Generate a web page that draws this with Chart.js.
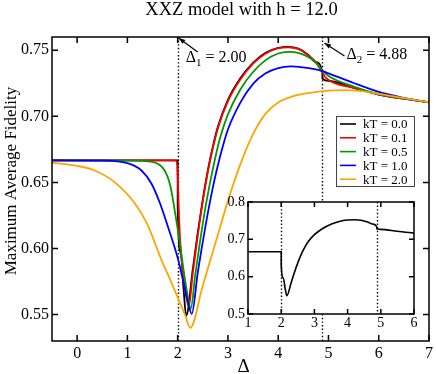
<!DOCTYPE html>
<html>
<head>
<meta charset="utf-8">
<script src="https://cdn.jsdelivr.net/npm/chart.js@4.4.1/dist/chart.umd.min.js"></script>
<style>
  html, body { margin: 0; padding: 0; background: #fff; }
  #wrap { position: relative; width: 436px; height: 374px; }
  #main  { position: absolute; left: 0; top: 0; }
  #inset { position: absolute; left: 220px; top: 190px; }
</style>
</head>
<body>
<div id="wrap">
  <canvas id="main" width="436" height="374"></canvas>
  <canvas id="inset" width="216" height="150"></canvas>
</div>
<script>
// ── Data ─────────────────────────────────────────────────
const xTicks      = [0, 1, 2, 3, 4, 5, 6, 7];
const yTicks      = [0.55, 0.60, 0.65, 0.70, 0.75];
const insetXTicks = [1, 2, 3, 4, 5, 6];
const insetYTicks = [0.5, 0.6, 0.7, 0.8];
const transitions = [2.00, 4.88];

const kTLabels = ['kT = 0.0', 'kT = 0.1', 'kT = 0.5', 'kT = 1.0', 'kT = 2.0'];
const kTColors = ['#000000', '#ff0000', '#009a00', '#0000ff', '#ffa500'];

// kT = 0.0 (also shown in the inset)
const deltaK0 = [-0.5, 2.0, 2.0001, 2.06, 2.12, 2.17, 2.3, 2.4, 2.5, 2.6, 2.7, 2.8, 3.0, 3.25, 3.5, 3.75, 4.0, 4.2, 4.4, 4.6, 4.75, 4.88, 4.8801, 5.0, 5.5, 6.0, 6.5, 7.0];
const fidK0   = [0.6667, 0.6667, 0.632, 0.597, 0.568, 0.549, 0.584, 0.612, 0.637, 0.659, 0.677, 0.692, 0.7125, 0.729, 0.7405, 0.748, 0.7518, 0.7526, 0.7512, 0.7465, 0.741, 0.733, 0.7285, 0.7268, 0.7215, 0.7165, 0.7133, 0.7105];
// kT = 0.1
const deltaK1 = [-0.5, 1.9, 1.97, 2.0, 2.02, 2.05, 2.1, 2.16, 2.22, 2.3, 2.4, 2.5, 2.6, 2.7, 2.8, 3.0, 3.25, 3.5, 3.75, 4.0, 4.2, 4.4, 4.6, 4.75, 4.85, 4.95, 5.1, 5.5, 6.0, 6.5, 7.0];
const fidK1   = [0.6667, 0.6667, 0.6665, 0.656, 0.632, 0.606, 0.583, 0.566, 0.556, 0.581, 0.610, 0.636, 0.658, 0.676, 0.691, 0.7115, 0.728, 0.7398, 0.7475, 0.7515, 0.7522, 0.751, 0.746, 0.741, 0.735, 0.729, 0.7255, 0.7215, 0.7165, 0.7133, 0.7105];
// kT = 0.5
const deltaK5 = [-0.5, 1.0, 1.5, 1.74, 1.85, 1.97, 2.05, 2.12, 2.2, 2.26, 2.35, 2.45, 2.55, 2.65, 2.75, 2.85, 3.0, 3.25, 3.5, 3.75, 4.0, 4.2, 4.4, 4.6, 4.75, 4.88, 5.0, 5.5, 6.0, 6.5, 7.0];
const fidK5   = [0.6667, 0.6667, 0.6655, 0.659, 0.648, 0.622, 0.602, 0.583, 0.564, 0.5545, 0.580, 0.6065, 0.6305, 0.651, 0.669, 0.6845, 0.7015, 0.7205, 0.7335, 0.7425, 0.7475, 0.7487, 0.748, 0.7448, 0.7405, 0.7345, 0.7305, 0.7225, 0.7168, 0.7135, 0.7105];
// kT = 1.0
const deltaK10 = [-0.5, 0.5, 1.0, 1.28, 1.48, 1.65, 1.81, 2.0, 2.1, 2.2, 2.28, 2.4, 2.55, 2.7, 2.8, 2.9, 3.0, 3.25, 3.5, 3.75, 4.0, 4.25, 4.5, 4.75, 4.88, 5.0, 5.5, 6.0, 6.5, 7.0];
const fidK10   = [0.6667, 0.6665, 0.6645, 0.659, 0.649, 0.634, 0.616, 0.593, 0.577, 0.560, 0.5505, 0.5817, 0.6162, 0.6462, 0.663, 0.6775, 0.690, 0.7105, 0.7245, 0.7325, 0.7365, 0.7378, 0.737, 0.7355, 0.7342, 0.7325, 0.7252, 0.7185, 0.714, 0.7105];
// kT = 2.0
const deltaK20 = [-0.5, 0, 0.35, 0.75, 1.15, 1.4, 1.67, 1.85, 2.0, 2.15, 2.25, 2.5, 2.75, 3.0, 3.25, 3.5, 3.75, 4.0, 4.3, 4.6, 5.0, 5.3, 5.6, 6.0, 6.5, 7.0];
const fidK20   = [0.665, 0.6625, 0.659, 0.650, 0.634, 0.618, 0.592, 0.5765, 0.563, 0.5495, 0.540, 0.572, 0.604, 0.636, 0.664, 0.6865, 0.702, 0.7105, 0.7152, 0.7176, 0.7194, 0.7198, 0.7192, 0.717, 0.7138, 0.7105];

const seriesX = [deltaK0, deltaK1, deltaK5, deltaK10, deltaK20];
const seriesY = [fidK0, fidK1, fidK5, fidK10, fidK20];

const SERIF = '"Liberation Serif", "DejaVu Serif", serif';

function pts(xs, ys) { return xs.map((x, i) => ({ x, y: ys[i] })); }

// ── Plugins ──────────────────────────────────────────────
// box round the plot area, with ticks pointing inward on all four sides
function framePlugin(tickLen, lw) {
  return {
    id: 'frame',
    afterDatasetsDraw(chart) {
      const { ctx, chartArea: a, scales: { x, y } } = chart;
      ctx.save();
      ctx.strokeStyle = '#000';
      ctx.lineWidth = lw;
      ctx.strokeRect(a.left, a.top, a.right - a.left, a.bottom - a.top);
      ctx.beginPath();
      x.ticks.forEach(t => {
        const px = x.getPixelForValue(t.value);
        ctx.moveTo(px, a.bottom); ctx.lineTo(px, a.bottom - tickLen);
        ctx.moveTo(px, a.top);    ctx.lineTo(px, a.top + tickLen);
      });
      y.ticks.forEach(t => {
        const py = y.getPixelForValue(t.value);
        ctx.moveTo(a.left, py);  ctx.lineTo(a.left + tickLen, py);
        ctx.moveTo(a.right, py); ctx.lineTo(a.right - tickLen, py);
      });
      ctx.stroke();
      ctx.restore();
    }
  };
}

// dotted verticals at the two transition points
const dottedPlugin = {
  id: 'dotted',
  beforeDatasetsDraw(chart) {
    const { ctx, chartArea: a, scales: { x } } = chart;
    ctx.save();
    ctx.strokeStyle = '#000';
    ctx.lineWidth = 1.4;
    ctx.setLineDash([1.4, 2.2]);
    transitions.forEach(d => {
      const px = Math.round(x.getPixelForValue(d)) + 0.5;
      ctx.beginPath();
      ctx.moveTo(px, a.top);
      ctx.lineTo(px, a.bottom);
      ctx.stroke();
    });
    ctx.restore();
  }
};

function arrow(ctx, fx, fy, tx, ty) {
  const ang = Math.atan2(ty - fy, tx - fx);
  ctx.beginPath();
  ctx.moveTo(fx, fy); ctx.lineTo(tx, ty);
  ctx.stroke();
  ctx.beginPath();
  ctx.moveTo(tx, ty);
  ctx.lineTo(tx - 7 * Math.cos(ang - 0.35), ty - 7 * Math.sin(ang - 0.35));
  ctx.lineTo(tx - 7 * Math.cos(ang + 0.35), ty - 7 * Math.sin(ang + 0.35));
  ctx.closePath();
  ctx.fill();
}

function subText(ctx, x, y, main, sub, rest, size) {
  ctx.font = size + 'px ' + SERIF;
  ctx.fillText(main, x, y);
  x += ctx.measureText(main).width;
  ctx.font = Math.round(size * 0.7) + 'px ' + SERIF;
  ctx.fillText(sub, x, y + 4);
  x += ctx.measureText(sub).width;
  ctx.font = size + 'px ' + SERIF;
  ctx.fillText(rest, x, y);
}

// title, axis titles, arrows with labels, legend box
const decorPlugin = {
  id: 'decor',
  afterDatasetsDraw(chart) {
    const { ctx, chartArea: a, scales: { x } } = chart;
    const cx = (a.left + a.right) / 2;
    ctx.save();
    ctx.fillStyle = '#000';
    ctx.strokeStyle = '#000';
    ctx.textBaseline = 'alphabetic';

    ctx.font = '18.5px ' + SERIF;
    ctx.textAlign = 'center';
    ctx.fillText('XXZ model with h = 12.0', cx + 1, 15);

    ctx.font = '19px ' + SERIF;
    ctx.fillText('Δ', cx + 3, 372);

    ctx.save();
    ctx.translate(16, 181);
    ctx.rotate(-Math.PI / 2);
    ctx.font = '17px ' + SERIF;
    ctx.fillText('Maximum Average Fidelity', 0, 0);
    ctx.restore();

    ctx.textAlign = 'left';
    ctx.lineWidth = 1.2;
    const h1x = x.getPixelForValue(transitions[0]) + 1, h1y = a.top + 1;
    arrow(ctx, h1x + 19, h1y + 14, h1x, h1y);
    subText(ctx, h1x + 7, h1y + 24, 'Δ', '1', ' = 2.00', 16);

    const h2x = x.getPixelForValue(transitions[1]) + 2, h2y = a.top + 6;
    arrow(ctx, h2x + 20, h2y + 13, h2x, h2y);
    subText(ctx, h2x + 22, h2y + 16, 'Δ', '2', ' = 4.88', 16);

    // legend
    const lx = a.right - 93, ly = a.top + 79, lw = 78, lh = 70;
    ctx.fillStyle = '#fff';
    ctx.fillRect(lx, ly, lw, lh);
    ctx.strokeStyle = '#444';
    ctx.lineWidth = 1;
    ctx.strokeRect(lx + 0.5, ly + 0.5, lw, lh);
    ctx.font = '13px ' + SERIF;
    ctx.textBaseline = 'middle';
    kTLabels.forEach((l, i) => {
      const yy = ly + 8 + i * 13.8;
      ctx.strokeStyle = kTColors[i];
      ctx.lineWidth = 1.6;
      ctx.beginPath();
      ctx.moveTo(lx + 4, yy); ctx.lineTo(lx + 20, yy);
      ctx.stroke();
      ctx.fillStyle = '#000';
      ctx.fillText(l, lx + 27, yy + 1);
    });
    ctx.restore();
  }
};

const whiteAreaPlugin = {
  id: 'whiteArea',
  beforeDraw(chart) {
    const { ctx, chartArea: a } = chart;
    ctx.save();
    ctx.fillStyle = '#fff';
    ctx.fillRect(a.left, a.top, a.right - a.left, a.bottom - a.top);
    ctx.restore();
  }
};

// ── Main chart ───────────────────────────────────────────
new Chart(document.getElementById('main'), {
  type: 'line',
  data: {
    datasets: kTLabels.map((l, i) => ({
      label: l,
      data: pts(seriesX[i], seriesY[i]),
      borderColor: kTColors[i],
      borderWidth: 1.8,
      pointRadius: 0,
      fill: false,
      cubicInterpolationMode: 'monotone',
      order: kTLabels.length - i,
    }))
  },
  options: {
    responsive: false,
    animation: false,
    events: [],
    layout: { padding: { top: 37, right: 5, bottom: 0, left: 0 } },
    plugins: { legend: { display: false }, tooltip: { enabled: false } },
    scales: {
      x: {
        type: 'linear', min: -0.5, max: 7,
        afterBuildTicks: s => { s.ticks = xTicks.map(v => ({ value: v })); },
        afterFit: s => { s.height = 33; },
        grid: { display: false, drawTicks: false },
        border: { display: false },
        ticks: { color: '#000', font: { family: SERIF, size: 16 }, padding: 3, maxRotation: 0, callback: v => String(v) },
      },
      y: {
        type: 'linear', min: 0.53, max: 0.76,
        afterBuildTicks: s => { s.ticks = yTicks.map(v => ({ value: v })); },
        afterFit: s => { s.width = 52; },
        grid: { display: false, drawTicks: false },
        border: { display: false },
        ticks: { color: '#000', font: { family: SERIF, size: 16 }, padding: 3, callback: v => v.toFixed(2) },
      }
    }
  },
  plugins: [dottedPlugin, framePlugin(6, 1.5), decorPlugin]
});

// ── Inset (kT = 0 only) ──────────────────────────────────
new Chart(document.getElementById('inset'), {
  type: 'line',
  data: {
    datasets: [{
      data: pts(deltaK0, fidK0),
      borderColor: '#000',
      borderWidth: 1.6,
      pointRadius: 0,
      fill: false,
      cubicInterpolationMode: 'monotone',
    }]
  },
  options: {
    responsive: false,
    animation: false,
    events: [],
    layout: { padding: { top: 12, right: 22, bottom: 0, left: 0 } },
    plugins: { legend: { display: false }, tooltip: { enabled: false } },
    scales: {
      x: {
        type: 'linear', min: 1, max: 6,
        afterBuildTicks: s => { s.ticks = insetXTicks.map(v => ({ value: v })); },
        afterFit: s => { s.height = 26; },
        grid: { display: false, drawTicks: false },
        border: { display: false },
        ticks: { color: '#000', font: { family: SERIF, size: 14 }, padding: 1, maxRotation: 0, callback: v => String(v) },
      },
      y: {
        type: 'linear', min: 0.5, max: 0.8,
        afterBuildTicks: s => { s.ticks = insetYTicks.map(v => ({ value: v })); },
        afterFit: s => { s.width = 28; },
        grid: { display: false, drawTicks: false },
        border: { display: false },
        ticks: { color: '#000', font: { family: SERIF, size: 14 }, padding: 3, callback: v => v.toFixed(1) },
      }
    }
  },
  plugins: [whiteAreaPlugin, dottedPlugin, framePlugin(5, 1.5)]
});
</script>
</body>
</html>
